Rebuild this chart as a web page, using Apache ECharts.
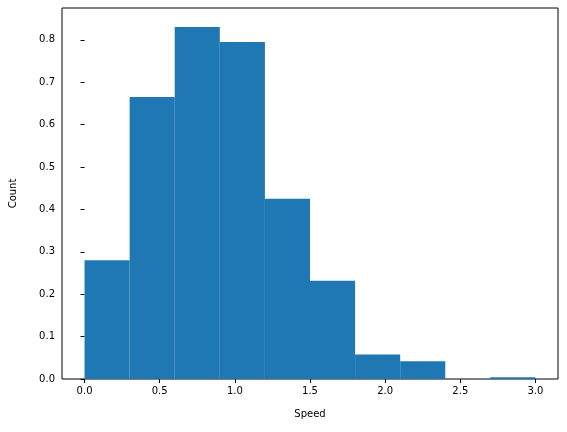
<!DOCTYPE html><html><head><meta charset="utf-8">
<script src="https://cdn.jsdelivr.net/npm/echarts@6/dist/echarts.min.js"></script>
<style>html,body{margin:0;padding:0;background:#fff}#c{width:567px;height:432px}</style>
</head><body><div id="c"></div><script>
const binEdges=[0,0.3,0.6,0.9,1.2,1.5,1.8,2.1,2.4,2.7,3.0];
const counts=[0.28,0.665,0.83,0.795,0.425,0.232,0.058,0.042,0,0.004];
const xTicks=[0,0.5,1.0,1.5,2.0,2.5,3.0];
const yTicks=[0,0.1,0.2,0.3,0.4,0.5,0.6,0.7,0.8];
const data=counts.map((c,i)=>[binEdges[i],binEdges[i+1],c]);
const ch=echarts.init(document.getElementById('c'));
const font={fontFamily:'DejaVu Sans',fontSize:10,color:'#000'};
ch.setOption({animation:false,
grid:{left:62,right:9,top:8,bottom:53,show:true,borderColor:'#000',borderWidth:1,backgroundColor:'transparent'},
xAxis:{type:'value',min:-0.15,max:3.15,name:'Speed',nameLocation:'middle',nameGap:30,nameTextStyle:font,
 axisLine:{show:false},splitLine:{show:false},
 axisTick:{show:true,length:4,customValues:xTicks,lineStyle:{color:'#000'}},
 axisLabel:{...font,margin:7,customValues:xTicks,formatter:v=>v.toFixed(1)}},
yAxis:{type:'value',min:0,max:0.875,name:'Count',nameLocation:'middle',nameGap:44,nameTextStyle:font,
 axisLine:{show:false},splitLine:{show:false},
 axisTick:{show:true,length:4,customValues:yTicks,lineStyle:{color:'#000'}},
 axisLabel:{...font,margin:7,customValues:yTicks,formatter:v=>v.toFixed(1)}},
series:[{type:'custom',data:data,renderItem:(p,api)=>{
 const a=api.coord([api.value(0),api.value(2)]),b=api.coord([api.value(1),0]);
 return {type:'rect',shape:{x:a[0],y:a[1],width:b[0]-a[0],height:b[1]-a[1]},style:{fill:'#1f77b4'}};
},encode:{x:[0,1],y:2}}]});
</script></body></html>
